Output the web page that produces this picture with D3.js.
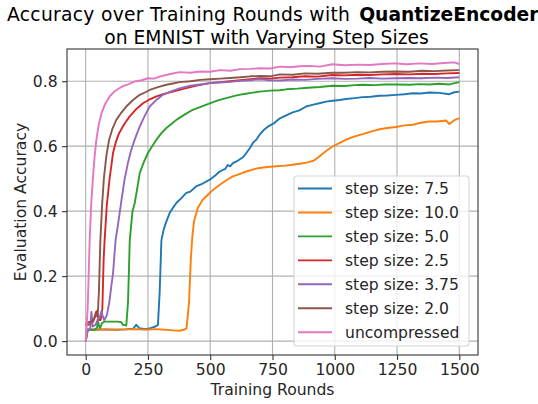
<!DOCTYPE html>
<html>
<head>
<meta charset="utf-8">
<script src="https://cdn.jsdelivr.net/npm/d3@7"></script>
<style>
  body { margin: 0; background: #fff; }
  svg { display: block; font-family: 'DejaVu Sans', sans-serif; }
</style>
</head>
<body>
<div id="chart"></div>
<script>
// [round, accuracy]
const step75 = [[0,0.0],[8,0.035],[40,0.035],[80,0.036],[120,0.035],[160,0.036],[190,0.038],[203,0.05],[215,0.04],[240,0.037],[260,0.04],[280,0.045],[290,0.05],[297,0.15],[304,0.31],[313,0.343],[320,0.36],[337,0.394],[350,0.41],[364,0.425],[384,0.44],[404,0.456],[420,0.46],[443,0.476],[470,0.485],[498,0.497],[520,0.51],[538,0.522],[560,0.53],[570,0.542],[580,0.538],[591,0.548],[610,0.555],[630,0.565],[645,0.579],[660,0.595],[671,0.61],[685,0.62],[698,0.635],[715,0.65],[731,0.66],[755,0.67],[778,0.685],[805,0.695],[831,0.704],[858,0.71],[885,0.722],[910,0.727],[938,0.732],[965,0.737],[991,0.74],[1020,0.742],[1045,0.745],[1080,0.748],[1112,0.751],[1145,0.752],[1179,0.755],[1210,0.756],[1246,0.758],[1280,0.76],[1313,0.763],[1345,0.762],[1380,0.765],[1420,0.764],[1460,0.76],[1480,0.766],[1500,0.768]]
const step100 = [[0,0.0],[8,0.035],[50,0.036],[100,0.035],[150,0.036],[200,0.037],[240,0.035],[280,0.037],[320,0.035],[350,0.033],[375,0.032],[395,0.035],[405,0.04],[415,0.12],[422,0.25],[428,0.32],[435,0.37],[450,0.41],[470,0.435],[498,0.456],[518,0.47],[538,0.481],[565,0.495],[591,0.507],[620,0.515],[645,0.522],[670,0.528],[698,0.533],[730,0.536],[765,0.538],[800,0.54],[831,0.543],[860,0.546],[891,0.55],[915,0.555],[938,0.568],[965,0.585],[991,0.599],[1020,0.61],[1045,0.62],[1080,0.63],[1112,0.637],[1145,0.645],[1179,0.652],[1210,0.656],[1246,0.659],[1280,0.664],[1313,0.666],[1345,0.672],[1380,0.676],[1410,0.676],[1447,0.679],[1460,0.668],[1480,0.68],[1500,0.686]]
const step50 = [[0,0.0],[8,0.035],[20,0.035],[35,0.035],[45,0.04],[50,0.06],[54,0.045],[58,0.04],[65,0.055],[75,0.06],[90,0.06],[110,0.06],[130,0.06],[143,0.058],[150,0.05],[163,0.048],[170,0.12],[177,0.31],[188,0.40],[197,0.425],[207,0.47],[217,0.517],[233,0.55],[250,0.579],[267,0.60],[284,0.62],[304,0.64],[324,0.656],[344,0.668],[364,0.681],[397,0.697],[430,0.712],[464,0.722],[498,0.732],[531,0.741],[564,0.748],[598,0.755],[631,0.76],[665,0.764],[698,0.768],[740,0.771],[778,0.772],[805,0.775],[850,0.777],[891,0.78],[940,0.782],[991,0.786],[1040,0.785],[1080,0.788],[1112,0.789],[1160,0.788],[1200,0.79],[1246,0.79],[1300,0.789],[1340,0.791],[1380,0.79],[1420,0.792],[1460,0.79],[1500,0.797]]
const step25 = [[0,0.049],[10,0.05],[20,0.055],[30,0.06],[38,0.08],[43,0.092],[48,0.08],[53,0.065],[60,0.065],[67,0.1],[72,0.25],[76,0.31],[85,0.42],[96,0.50],[110,0.58],[122,0.615],[134,0.64],[155,0.668],[176,0.691],[200,0.712],[230,0.732],[255,0.743],[284,0.753],[315,0.761],[350,0.768],[400,0.778],[450,0.787],[498,0.794],[540,0.797],[580,0.80],[620,0.803],[660,0.806],[700,0.809],[740,0.808],[780,0.811],[830,0.812],[880,0.815],[930,0.814],[990,0.819],[1040,0.818],[1090,0.82],[1140,0.819],[1190,0.821],[1246,0.822],[1300,0.821],[1350,0.823],[1400,0.822],[1450,0.824],[1500,0.825]]
const step375 = [[0,0.0],[8,0.036],[18,0.036],[23,0.09],[28,0.045],[40,0.05],[50,0.07],[57,0.075],[63,0.092],[69,0.075],[75,0.065],[85,0.08],[95,0.12],[103,0.17],[110,0.21],[120,0.31],[130,0.36],[143,0.43],[156,0.497],[170,0.55],[183,0.589],[200,0.627],[217,0.66],[235,0.69],[257,0.722],[282,0.741],[310,0.758],[340,0.768],[377,0.778],[420,0.786],[460,0.79],[498,0.794],[540,0.796],[580,0.798],[620,0.801],[660,0.803],[700,0.806],[740,0.803],[780,0.802],[830,0.805],[880,0.804],[930,0.807],[990,0.809],[1040,0.807],[1090,0.808],[1140,0.81],[1190,0.808],[1246,0.809],[1300,0.81],[1350,0.809],[1400,0.811],[1450,0.81],[1500,0.812]]
const step20 = [[0,0.05],[9,0.058],[23,0.06],[35,0.07],[43,0.08],[48,0.075],[53,0.15],[59,0.31],[66,0.42],[73,0.50],[83,0.57],[94,0.62],[108,0.655],[123,0.681],[140,0.70],[163,0.722],[190,0.742],[217,0.758],[240,0.766],[257,0.773],[290,0.782],[324,0.789],[350,0.793],[377,0.797],[420,0.80],[460,0.804],[498,0.806],[540,0.808],[580,0.81],[620,0.812],[660,0.815],[700,0.816],[740,0.815],[780,0.821],[830,0.82],[880,0.824],[930,0.823],[990,0.826],[1040,0.826],[1090,0.828],[1140,0.827],[1190,0.829],[1246,0.83],[1300,0.829],[1350,0.832],[1400,0.831],[1450,0.833],[1500,0.834]]
const uncompressed = [[0,0.0],[8,0.10],[16,0.31],[22,0.42],[29,0.50],[36,0.57],[43,0.62],[52,0.665],[63,0.70],[78,0.73],[96,0.753],[115,0.768],[130,0.776],[150,0.785],[170,0.79],[200,0.80],[225,0.803],[250,0.809],[275,0.808],[300,0.815],[340,0.822],[377,0.828],[420,0.826],[460,0.83],[498,0.829],[540,0.834],[580,0.832],[620,0.837],[660,0.838],[700,0.84],[740,0.839],[780,0.845],[820,0.843],[860,0.846],[900,0.847],[940,0.845],[990,0.852],[1040,0.849],[1090,0.851],[1140,0.85],[1190,0.853],[1240,0.855],[1290,0.852],[1340,0.855],[1390,0.853],[1440,0.856],[1480,0.858],[1500,0.853]]

const seriesNames = ['step size: 7.5', 'step size: 10.0', 'step size: 5.0', 'step size: 2.5', 'step size: 3.75', 'step size: 2.0', 'uncompressed']
const seriesData = [step75, step100, step50, step25, step375, step20, uncompressed]
const colors = ['#1f77b4', '#ff7f0e', '#2ca02c', '#d62728', '#9467bd', '#8c564b', '#e377c2']
const xTicks = [0, 250, 500, 750, 1000, 1250, 1500]
const yTicks = [0.0, 0.2, 0.4, 0.6, 0.8]

const width = 538, height = 404
const margin = {top: 49, right: 60, bottom: 49, left: 67}
const plotW = width - margin.left - margin.right,
  plotH = height - margin.top - margin.bottom

const svg = d3.select('#chart').append('svg')
  .attr('width', width)
  .attr('height', height)

const xScale = d3.scaleLinear()
  .domain([-75, 1575])
  .range([0, plotW])
const yScale = d3.scaleLinear()
  .domain([-0.0428, 0.8991])
  .range([plotH, 0])

const g = svg.append('g')
  .attr('transform', `translate(${margin.left}, ${margin.top})`)

// grid
g.append('g').selectAll('line').data(xTicks)
  .enter().append('line')
  .attr('x1', d => xScale(d)).attr('x2', d => xScale(d))
  .attr('y1', 0).attr('y2', plotH)
  .attr('stroke', '#b0b0b0')
  .attr('stroke-width', 1.1)
g.append('g').selectAll('line').data(yTicks)
  .enter().append('line')
  .attr('x1', 0).attr('x2', plotW)
  .attr('y1', d => yScale(d)).attr('y2', d => yScale(d))
  .attr('stroke', '#b0b0b0')
  .attr('stroke-width', 1.1)

// axes
const xAxis = g.append('g')
  .attr('transform', `translate(0, ${plotH})`)
  .call(d3.axisBottom(xScale).tickValues(xTicks).tickSize(4.9).tickPadding(4.5).tickFormat(d3.format('d')))
const yAxis = g.append('g')
  .call(d3.axisLeft(yScale).tickValues(yTicks).tickSize(4.9).tickPadding(4.5).tickFormat(d3.format('.1f')))
for(const ax of [xAxis, yAxis]) {
  ax.select('.domain').remove()
  ax.selectAll('line').attr('stroke', '#333').attr('stroke-width', 1.1)
  ax.selectAll('text')
    .attr('fill', '#262626')
    .style('font-size', '15.6px')
    .style('font-family', "'DejaVu Sans', sans-serif")
}

// lines
const line = d3.line()
  .x(d => xScale(d[0]))
  .y(d => yScale(d[1]))
seriesData.forEach((data, i) => {
  g.append('path')
    .datum(data)
    .attr('fill', 'none')
    .attr('stroke', colors[i])
    .attr('stroke-width', 1.9)
    .attr('stroke-linejoin', 'round')
    .attr('d', line)
})

// frame
g.append('rect')
  .attr('width', plotW)
  .attr('height', plotH)
  .attr('fill', 'none')
  .attr('stroke', '#333')
  .attr('stroke-width', 1.1)

// legend
const legendG = svg.append('g')
  .attr('transform', 'translate(294, 176)')
legendG.append('rect')
  .attr('width', 175)
  .attr('height', 170)
  .attr('rx', 3)
  .attr('fill', 'rgba(255,255,255,0.8)')
  .attr('stroke', '#d6d6d6')
  .attr('stroke-width', 1.1)
const rowH = 23.95
const rows = legendG.selectAll('.row').data(seriesNames)
  .enter().append('g')
  .attr('transform', (d, i) => `translate(0, ${12.5 + i * rowH})`)
rows.append('line')
  .attr('x1', 4).attr('x2', 38)
  .attr('stroke', (d, i) => colors[i])
  .attr('stroke-width', 1.9)
rows.append('text')
  .text(d => d)
  .attr('x', 51)
  .attr('y', 5.6)
  .attr('fill', '#262626')
  .style('font-size', '15.6px')

// titles (first line runs off the right edge, as in the original)
const title1 = svg.append('text')
  .attr('x', 7)
  .attr('y', 21)
  .attr('fill', '#000')
  .style('font-size', '18.7px')
title1.append('tspan')
  .style('letter-spacing', '0.3px')
  .text('Accuracy over Training Rounds with')
title1.append('tspan')
  .attr('dx', 9)
  .style('font-weight', 'bold')
  .text('QuantizeEncoder')
svg.append('text')
  .attr('x', 266.5)
  .attr('y', 44)
  .attr('fill', '#000')
  .style('text-anchor', 'middle')
  .style('font-size', '18.7px')
  .text('on EMNIST with Varying Step Sizes')

svg.append('text')
  .attr('x', margin.left + plotW / 2)
  .attr('y', 395)
  .attr('fill', '#262626')
  .style('text-anchor', 'middle')
  .style('font-size', '15.6px')
  .text('Training Rounds')
svg.append('text')
  .attr('transform', `translate(26, ${margin.top + plotH / 2}) rotate(-90)`)
  .attr('fill', '#262626')
  .style('text-anchor', 'middle')
  .style('font-size', '15.6px')
  .text('Evaluation Accuracy')
</script>
</body>
</html>
